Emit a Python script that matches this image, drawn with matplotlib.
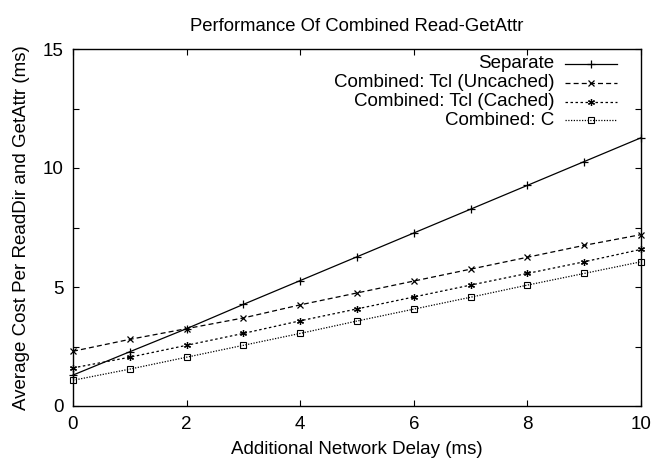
import matplotlib
matplotlib.use("Agg")
import matplotlib.pyplot as plt
from matplotlib.ticker import MultipleLocator

plt.rcParams['font.family'] = ['Liberation Sans', 'DejaVu Sans']

delay = [0, 1, 2, 3, 4, 5, 6, 7, 8, 9, 10]
separate = [1.3, 2.28, 3.25, 4.27, 5.27, 6.27, 7.27, 8.27, 9.27, 10.27, 11.27]
tcl_uncached = [2.3, 2.8, 3.25, 3.7, 4.25, 4.75, 5.25, 5.75, 6.25, 6.75, 7.2]
tcl_cached = [1.6, 2.05, 2.55, 3.05, 3.58, 4.08, 4.58, 5.08, 5.57, 6.06, 6.58]
combined_c = [1.08, 1.55, 2.05, 2.55, 3.05, 3.57, 4.07, 4.57, 5.08, 5.57, 6.06]
labels = ["Separate", "Combined: Tcl (Uncached)", "Combined: Tcl (Cached)", "Combined: C"]

title = "Performance Of Combined Read-GetAttr"
xlabel = "Additional Network Delay (ms)"
ylabel = "Average Cost Per ReadDir and GetAttr (ms)"

FS = 13.5

fig = plt.figure(figsize=(6.52, 4.62), dpi=100)
ax = fig.add_axes([73/652, 1-406/462, 568/652, 357/462])

asterisk = (6, 2, 0)
styles = [
    dict(ls='-', marker='+', ms=5.5, mew=0.9),
    dict(ls=(0, (4, 2.5)), marker='x', ms=4.5, mew=0.9),
    dict(ls=(0, (2, 2)), marker=asterisk, ms=5, mew=0.9),
    dict(ls=(0, (1, 1.2)), marker='s', ms=5, mew=0.8, mfc='none'),
]
series = [separate, tcl_uncached, tcl_cached, combined_c]
for vals, st in zip(series, styles):
    ax.plot(delay, vals, color='black', lw=0.9, clip_on=False, **st)

ax.set_xlim(0, 10)
ax.set_ylim(0, 15)
ax.xaxis.set_major_locator(MultipleLocator(2))
ax.yaxis.set_major_locator(MultipleLocator(5))
ax.yaxis.set_minor_locator(MultipleLocator(2.5))
ax.tick_params(which='both', direction='in', top=True, right=True, labelsize=FS,
               length=4.5, width=0.8)
ax.tick_params(axis='x', pad=7)
ax.tick_params(axis='y', pad=7)
ax.tick_params(which='minor', length=4.5)
for sp in ax.spines.values():
    sp.set_linewidth(1.0)

ax.set_title(title, fontsize=13.3, pad=13)
ax.set_xlabel(xlabel, fontsize=FS, labelpad=6)
ax.set_ylabel(ylabel, fontsize=FS, labelpad=9)

# legend (gnuplot style: right-aligned text, sample to the right)
rows_y = [0.958, 0.905, 0.852, 0.801]
for lab, st, yy in zip(labels, styles, rows_y):
    ax.text(0.847, yy, lab, transform=ax.transAxes, ha='right', va='center', fontsize=FS)
    s = dict(st)
    marker = s.pop('marker'); ms = s.pop('ms'); mew = s.pop('mew'); mfc = s.pop('mfc', None)
    ax.plot([0.866, 0.958], [yy, yy], transform=ax.transAxes, color='black', lw=0.9,
            ls=s['ls'], clip_on=False)
    kw = dict(marker=marker, ms=ms, mew=mew, color='black', ls='none')
    if mfc is not None:
        kw['mfc'] = mfc
    ax.plot([0.912], [yy], transform=ax.transAxes, clip_on=False, **kw)

fig.savefig("out.png", dpi=100)
